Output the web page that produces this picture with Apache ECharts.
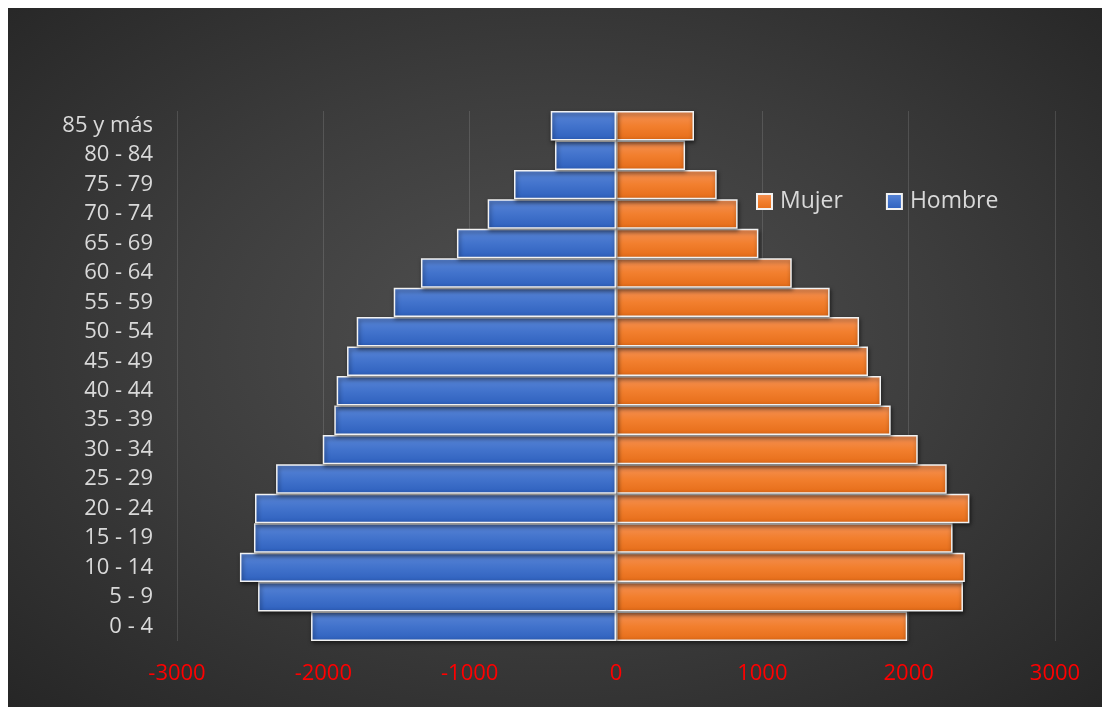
<!DOCTYPE html>
<html>
<head>
<meta charset="utf-8">
<script src="https://cdn.jsdelivr.net/npm/echarts@6/dist/echarts.min.js"></script>
<style>
  html, body { margin: 0; padding: 0; background: #ffffff; width: 1102px; height: 707px; overflow: hidden; }
  #bg { position: absolute; left: 8px; top: 8px; width: 1094px; height: 699px;
        background: radial-gradient(ellipse farthest-corner at 50% 48%, #525252 0%, #3d3d3d 50%, #262626 100%); }
  #chart { position: absolute; left: 0; top: 0; width: 1102px; height: 707px; }
</style>
</head>
<body>
<div id="bg"></div>
<div id="chart"></div>
<script>
// Age groups, bottom to top
const categories = ['0 - 4','5 - 9','10 - 14','15 - 19','20 - 24','25 - 29','30 - 34','35 - 39','40 - 44','45 - 49','50 - 54','55 - 59','60 - 64','65 - 69','70 - 74','75 - 79','80 - 84','85 y más'];
// Hombre plotted as negative values (left side)
const hombre = [-2084,-2446,-2570,-2474,-2467,-2323,-2004,-1925,-1909,-1838,-1772,-1519,-1333,-1087,-877,-697,-417,-446];
const mujer  = [1990,2371,2384,2300,2415,2260,2062,1877,1811,1722,1661,1460,1201,973,831,688,472,533];
const xTicks = [-3000,-2000,-1000,0,1000,2000,3000];
const legendNames = ['Mujer','Hombre'];

const FONT = '"Open Sans", "Noto Sans", sans-serif';
const blueFill = new echarts.graphic.LinearGradient(0,0,0,1,[
  {offset:0,color:'#5b86d6'},{offset:0.5,color:'#4273cc'},{offset:1,color:'#2e60bd'}]);
const orangeFill = new echarts.graphic.LinearGradient(0,0,0,1,[
  {offset:0,color:'#f4935a'},{offset:0.5,color:'#f27f2e'},{offset:1,color:'#e56c18'}]);

const chart = echarts.init(document.getElementById('chart'), null, {renderer:'canvas'});
chart.setOption({
  backgroundColor: 'transparent',
  animation: false,
  textStyle: { fontFamily: FONT },
  grid: { left: 177, right: 47, top: 111, bottom: 66, containLabel: false },
  legend: {
    data: legendNames,
    left: 751, top: 185,
    itemWidth: 15, itemHeight: 15, itemGap: 43,
    icon: 'rect',
    textStyle: { color: '#d9d9d9', fontSize: 23, fontFamily: FONT, padding: [0,0,0,3] }
  },
  xAxis: {
    type: 'value',
    min: xTicks[0], max: xTicks[xTicks.length-1], interval: 1000,
    axisLine: { show: false },
    axisTick: { show: false },
    splitLine: { show: true, lineStyle: { color: 'rgba(255,255,255,0.13)', width: 1 } },
    axisLabel: { color: '#ff0000', fontSize: 22, fontFamily: FONT, margin: 22,
                 formatter: v => String(v) }
  },
  yAxis: {
    type: 'category',
    data: categories,
    axisLine: { show: false },
    axisTick: { show: false },
    axisLabel: { color: '#d9d9d9', fontSize: 22, fontFamily: FONT, margin: 24 }
  },
  series: [
    {
      name: 'Mujer', type: 'bar', stack: 'total', data: mujer,
      barCategoryGap: '0%',
      itemStyle: { color: orangeFill, borderColor: '#f2f2f2', borderWidth: 1.5,
                   shadowBlur: 4, shadowColor: 'rgba(0,0,0,0.55)', shadowOffsetX: 1, shadowOffsetY: 2 }
    },
    {
      name: 'Hombre', type: 'bar', stack: 'total', data: hombre,
      barCategoryGap: '0%',
      itemStyle: { color: blueFill, borderColor: '#f2f2f2', borderWidth: 1.5,
                   shadowBlur: 4, shadowColor: 'rgba(0,0,0,0.55)', shadowOffsetX: 1, shadowOffsetY: 2 }
    }
  ]
});
</script>
</body>
</html>
